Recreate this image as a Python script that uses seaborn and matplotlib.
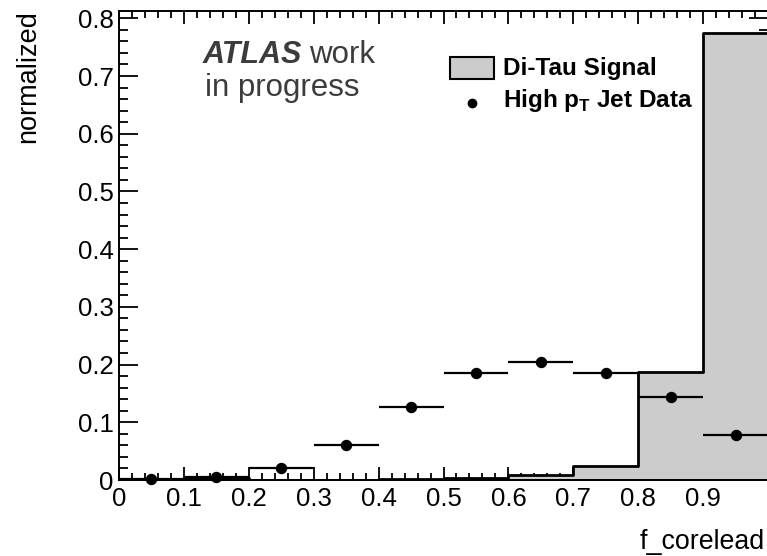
import numpy as np
import pandas as pd
import matplotlib
matplotlib.use("Agg")
import matplotlib.pyplot as plt
import seaborn as sns
from matplotlib.patches import Rectangle
from matplotlib.lines import Line2D
from matplotlib.ticker import FixedLocator, MultipleLocator

# ---- data ----
bin_edges = [0.0, 0.1, 0.2, 0.3, 0.4, 0.5, 0.6, 0.7, 0.8, 0.9, 1.0]
bin_centers = [0.05, 0.15, 0.25, 0.35, 0.45, 0.55, 0.65, 0.75, 0.85, 0.95]
signal = [0.0, 0.003, 0.0, 0.0, 0.001, 0.004, 0.008, 0.025, 0.188, 0.775]
jet_data = [0.001, 0.005, 0.021, 0.061, 0.126, 0.185, 0.205, 0.186, 0.144, 0.078]
x_ticks = [0.0, 0.1, 0.2, 0.3, 0.4, 0.5, 0.6, 0.7, 0.8, 0.9]
x_tick_labels = ["0", "0.1", "0.2", "0.3", "0.4", "0.5", "0.6", "0.7", "0.8", "0.9"]
y_ticks = [0.0, 0.1, 0.2, 0.3, 0.4, 0.5, 0.6, 0.7, 0.8]
y_tick_labels = ["0", "0.1", "0.2", "0.3", "0.4", "0.5", "0.6", "0.7", "0.8"]
legend_labels = ["Di-Tau Signal", r"High p$_{\mathbf{T}}$ Jet Data"]

sns.set_theme(style="ticks")
plt.rcParams['font.family'] = ['Liberation Sans', 'DejaVu Sans']
plt.rcParams['mathtext.fontset'] = 'custom'
plt.rcParams['mathtext.rm'] = 'Liberation Sans'
plt.rcParams['mathtext.bf'] = 'Liberation Sans:bold'

W, H = 767, 556
fig = plt.figure(figsize=(W / 100, H / 100), dpi=100)
ax = fig.add_axes([119 / W, 76 / H, 649 / W, 469 / H])

df = pd.DataFrame({"x": bin_centers, "w": signal})
sns.histplot(data=df, x="x", weights="w", bins=bin_edges, element="step",
             fill=True, facecolor="#cccccc", edgecolor="black", linewidth=2.0,
             alpha=1, ax=ax, zorder=2)

ax.errorbar(bin_centers, jet_data, xerr=0.05, fmt="o", color="black",
            ms=7.2, elinewidth=1.6, capsize=0, zorder=5, clip_on=False)

ax.set_xlim(0, 1)
ax.set_ylim(0, 0.8127)
ax.set_xlabel("")
ax.set_ylabel("")

ax.xaxis.set_major_locator(FixedLocator(x_ticks))
ax.set_xticklabels(x_tick_labels)
ax.yaxis.set_major_locator(FixedLocator(y_ticks))
ax.set_yticklabels(y_tick_labels)
ax.xaxis.set_minor_locator(MultipleLocator(0.02))
ax.yaxis.set_minor_locator(MultipleLocator(0.02))

ax.tick_params(which="both", direction="in", top=True, right=True,
               color="black", width=1.3, labelsize=18.5, labelcolor="black")
ax.tick_params(axis="x", which="major", length=9.5, pad=5)
ax.tick_params(axis="x", which="minor", length=5)
ax.tick_params(axis="y", which="major", length=13.5, pad=4)
ax.tick_params(axis="y", which="minor", length=6.5)
for s in ax.spines.values():
    s.set_linewidth(1.4)
    s.set_color("black")
    s.set_visible(True)

# axis titles (ROOT style)
fig.text(28 / W, 1 - 10 / H, "normalized", rotation=90, ha="center", va="top",
         fontsize=19.5, color="black")
fig.text(640 / W, 1 - 549 / H, "f_corelead", ha="left", va="baseline",
         fontsize=19.3, color="black")

# ATLAS label
atlas_col = "#3c3c3c"
fig.text(203 / W, 1 - 63 / H, "ATLAS", fontsize=22, fontweight="bold",
         fontstyle="italic", color=atlas_col, va="baseline", ha="left")
fig.text(309 / W, 1 - 63 / H, "work", fontsize=22.5, color=atlas_col,
         va="baseline", ha="left")
fig.text(205 / W, 1 - 96 / H, "in progress", fontsize=22.5, color=atlas_col,
         va="baseline", ha="left")

# legend
fig.add_artist(Rectangle((450 / W, 1 - 79 / H), 44 / W, 22 / H,
                         transform=fig.transFigure, facecolor="#cccccc",
                         edgecolor="black", linewidth=1.5))
fig.add_artist(Line2D([472 / W], [1 - 103 / H], marker="o", color="black",
                      ms=6, transform=fig.transFigure))
fig.text(503 / W, 1 - 75 / H, legend_labels[0], fontsize=17.5,
         fontweight="bold", va="baseline", ha="left", color="black")
fig.text(503 / W, 1 - 107 / H, legend_labels[1], fontsize=17.5,
         fontweight="bold", va="baseline", ha="left", color="black")

fig.savefig("out.png", dpi=100)
